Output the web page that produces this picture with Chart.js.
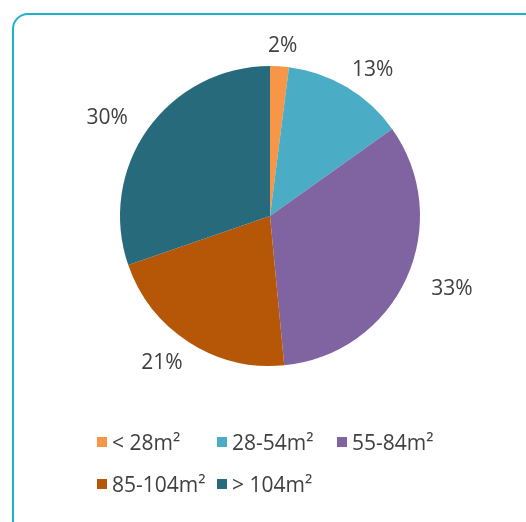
<!DOCTYPE html>
<html>
<head>
<meta charset="utf-8">
<script src="https://cdn.jsdelivr.net/npm/chart.js@4.4.1/dist/chart.umd.min.js"></script>
<style>
  html, body { margin: 0; padding: 0; background: #ffffff; }
  body { width: 526px; height: 522px; position: relative; overflow: hidden; font-family: "Open Sans", "Noto Sans", sans-serif; }
  #frame {
    position: absolute; left: 12px; top: 13px; width: 540px; height: 540px;
    border: 2px solid #1bb3c9; border-radius: 16px; box-sizing: border-box;
  }
  #wrap { position: absolute; left: 0; top: 0; width: 526px; height: 522px; }
  #legend {
    position: absolute; left: 97px; top: 428px;
    display: grid; grid-template-columns: 120px 120px 120px; row-gap: 14px;
    font-size: 21px; color: #404040;
  }
  .item { display: flex; align-items: center; height: 28px; white-space: nowrap; }
  .box { width: 10px; height: 10px; margin-right: 5px; flex: none; }
</style>
</head>
<body>
<div id="frame"></div>
<div id="wrap"><canvas id="chart" width="526" height="522"></canvas></div>
<div id="legend"></div>
<script>
// Share of homes by floor area
const categories = ['< 28m²', '28-54m²', '55-84m²', '85-104m²', '> 104m²'];
const shares = [2, 13, 33, 21, 30];
const colors = ['#f79646', '#4bacc6', '#8064a2', '#b65708', '#276a7c'];

// Percentage labels placed just outside each slice
const outsideLabels = {
  id: 'outsideLabels',
  afterDatasetsDraw(chart) {
    const ctx = chart.ctx;
    const meta = chart.getDatasetMeta(0);
    ctx.save();
    ctx.font = '21px "Open Sans", "Noto Sans", sans-serif';
    ctx.fillStyle = '#404040';
    ctx.textAlign = 'center';
    ctx.textBaseline = 'middle';
    meta.data.forEach((arc, i) => {
      const p = arc.getProps(['x', 'y', 'startAngle', 'endAngle', 'outerRadius'], true);
      const mid = (p.startAngle + p.endAngle) / 2;
      const ux = Math.cos(mid), uy = Math.sin(mid);
      const rx = p.outerRadius + 50, ry = p.outerRadius + 22;
      ctx.fillText(shares[i] + '%', p.x + ux * rx, p.y + uy * ry + 2);
    });
    ctx.restore();
  }
};

new Chart(document.getElementById('chart'), {
  type: 'pie',
  data: {
    labels: categories,
    datasets: [{ data: shares, backgroundColor: colors, borderWidth: 0 }]
  },
  options: {
    responsive: false,
    animation: false,
    layout: { padding: { left: 120, right: 106, top: 66, bottom: 156 } },
    plugins: { legend: { display: false }, tooltip: { enabled: false } }
  },
  plugins: [outsideLabels]
});

// Legend built from the same categories and colours
const legend = document.getElementById('legend');
categories.forEach((c, i) => {
  const item = document.createElement('div');
  item.className = 'item';
  const box = document.createElement('span');
  box.className = 'box';
  box.style.background = colors[i];
  const txt = document.createElement('span');
  txt.textContent = c;
  item.appendChild(box);
  item.appendChild(txt);
  legend.appendChild(item);
});
</script>
</body>
</html>
